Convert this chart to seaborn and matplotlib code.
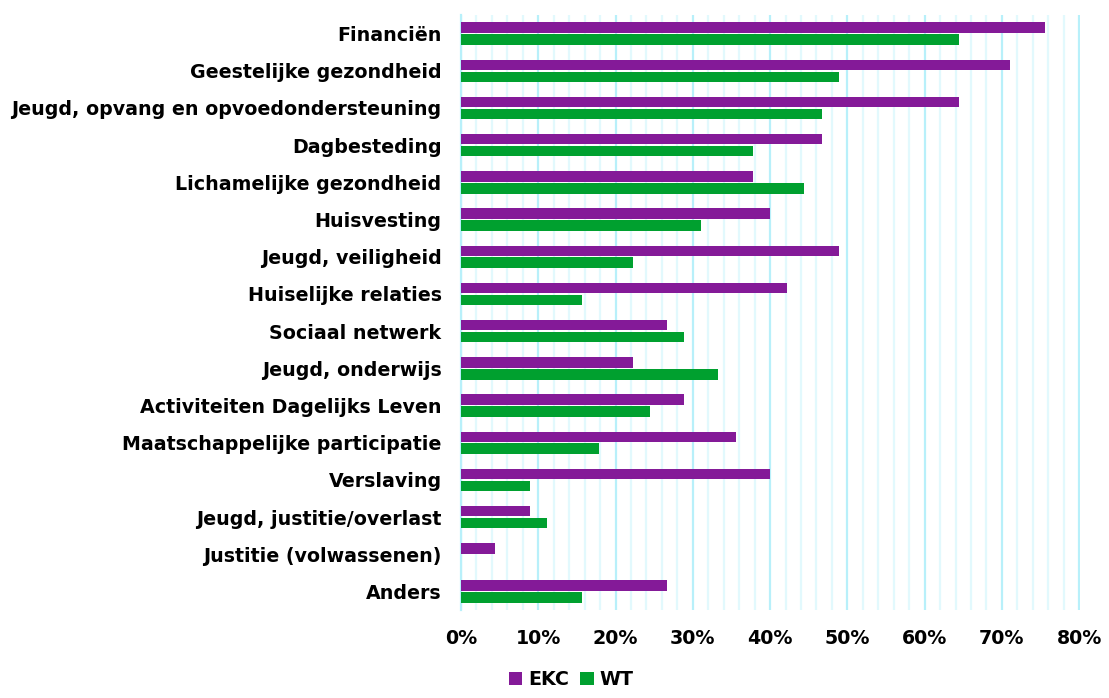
import pandas as pd
import seaborn as sns
import matplotlib.pyplot as plt
from matplotlib.ticker import MultipleLocator, PercentFormatter, FixedLocator

categories = ['Financiën', 'Geestelijke gezondheid', 'Jeugd, opvang en opvoedondersteuning',
              'Dagbesteding', 'Lichamelijke gezondheid', 'Huisvesting', 'Jeugd, veiligheid',
              'Huiselijke relaties', 'Sociaal netwerk', 'Jeugd, onderwijs',
              'Activiteiten Dagelijks Leven', 'Maatschappelijke participatie', 'Verslaving',
              'Jeugd, justitie/overlast', 'Justitie (volwassenen)', 'Anders']
ekc = [75.6, 71.1, 64.4, 46.7, 37.8, 40.0, 48.9, 42.2, 26.7, 22.2, 28.9, 35.6, 40.0, 8.9, 4.4, 26.7]
wt = [64.4, 48.9, 46.7, 37.8, 44.4, 31.1, 22.2, 15.6, 28.9, 33.3, 24.4, 17.8, 8.9, 11.1, 0.0, 15.6]

df = pd.DataFrame({'cat': categories * 2,
                   'val': [v / 100 for v in ekc + wt],
                   'serie': ['EKC'] * len(ekc) + ['WT'] * len(wt)})

sns.set_style('white')
plt.rcParams['font.family'] = ['DejaVu Sans']
plt.rcParams['text.color'] = 'black'
plt.rcParams['xtick.color'] = 'black'
plt.rcParams['ytick.color'] = 'black'

fig = plt.figure(figsize=(11.09, 6.98), dpi=100)
ax = fig.add_axes([0.4157, 0.126, 0.5581, 0.8525])

sns.barplot(data=df, y='cat', x='val', hue='serie', order=categories,
            palette={'EKC': '#841A98', 'WT': '#00A02F'}, saturation=1,
            width=0.64, gap=0.12, edgecolor='none', ax=ax, legend=True, zorder=3)

ax.set_xlim(0, 0.801)
ax.set_ylim(len(categories) - 0.5, -0.5)
ax.xaxis.set_major_locator(MultipleLocator(0.1))
ax.xaxis.set_minor_locator(MultipleLocator(0.02))
ax.xaxis.set_major_formatter(PercentFormatter(1.0, decimals=0))
ax.grid(axis='x', which='major', color='#B8F0FA', linewidth=1.6, zorder=0)
ax.grid(axis='x', which='minor', color='#E2F9FD', linewidth=1.6, zorder=0)
ax.set_axisbelow(True)

for s in ['top', 'right', 'bottom']:
    ax.spines[s].set_visible(False)
ax.spines['left'].set_color('#B8F0FA')
ax.spines['left'].set_linewidth(1.6)

ax.yaxis.set_minor_locator(FixedLocator([i - 0.5 for i in range(len(categories) + 1)]))
ax.tick_params(axis='y', which='major', length=0, pad=14, labelsize=13.7)
ax.tick_params(axis='y', which='minor', length=5, color='#B8F0FA', width=1.6)
ax.tick_params(axis='x', which='both', length=0, pad=14, labelsize=13.7)
for lbl in ax.get_yticklabels() + ax.get_xticklabels():
    lbl.set_fontweight('bold')
    lbl.set_color('black')

ax.set_xlabel('')
ax.set_ylabel('')

handles, labels = ax.get_legend_handles_labels()
ax.get_legend().remove()
fig.legend(handles, labels, loc='lower center', bbox_to_anchor=(0.515, -0.012), ncol=2,
           frameon=False, handlelength=0.7, handleheight=0.7, handletextpad=0.3,
           columnspacing=0.6, prop={'weight': 'bold', 'size': 13.7})

fig.savefig('out.png', dpi=100)
